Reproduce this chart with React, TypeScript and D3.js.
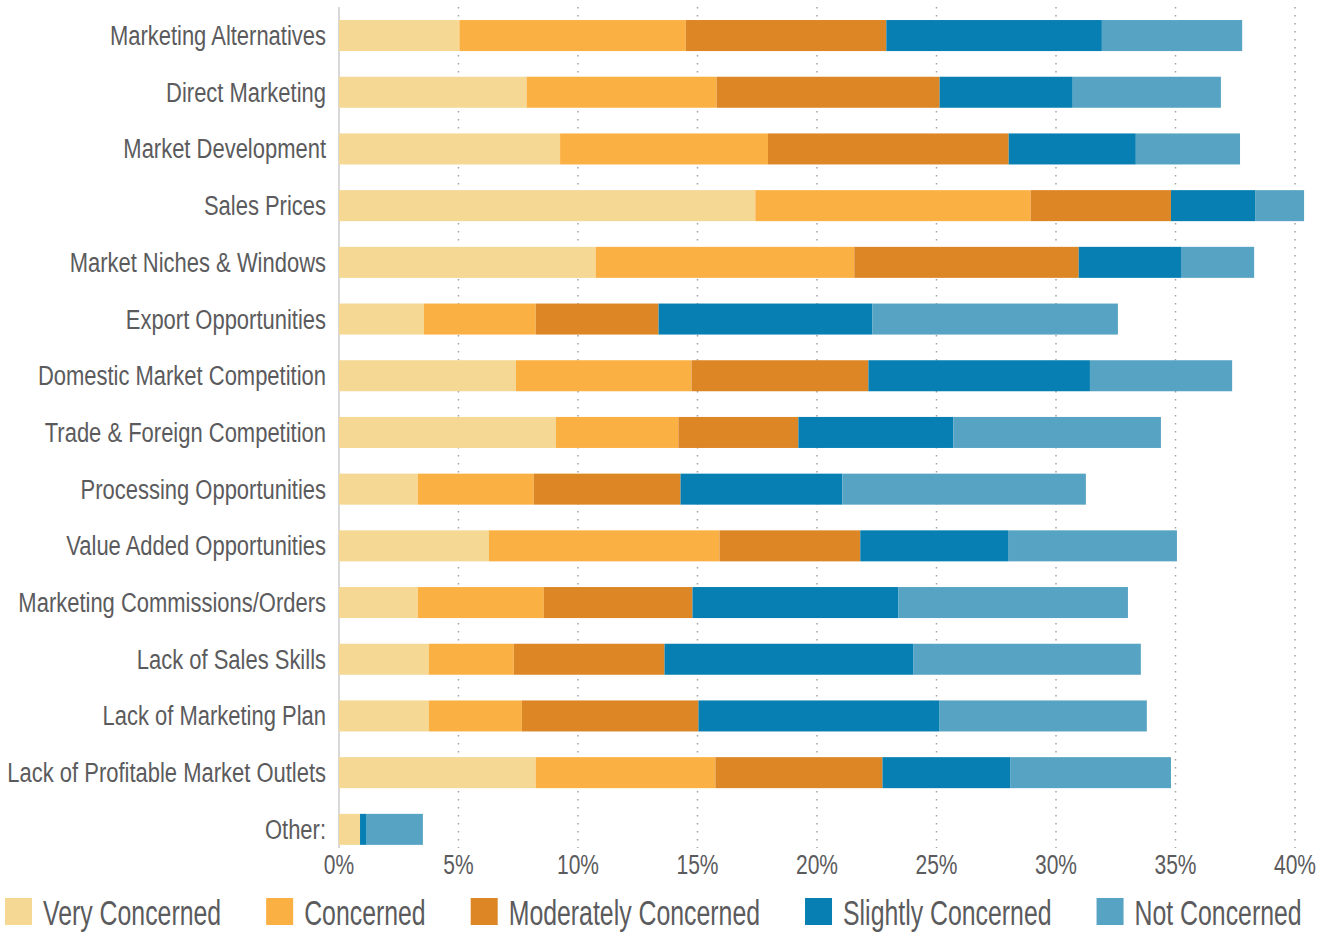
import React, { useEffect, useRef } from "react";
import * as d3 from "d3";

// Share of respondents (%) per concern level, one entry per category
const categories = [
  "Marketing Alternatives",
  "Direct Marketing",
  "Market Development",
  "Sales Prices",
  "Market Niches & Windows",
  "Export Opportunities",
  "Domestic Market Competition",
  "Trade & Foreign Competition",
  "Processing Opportunities",
  "Value Added Opportunities",
  "Marketing Commissions/Orders",
  "Lack of Sales Skills",
  "Lack of Marketing Plan",
  "Lack of Profitable Market Outlets",
  "Other:",
];

const veryConcerned = [5.04, 7.85, 9.25, 17.42, 10.74, 3.55, 7.4, 9.07, 3.3, 6.27, 3.3, 3.76, 3.76, 8.23, 0.88];
const concerned = [9.47, 7.95, 8.7, 11.52, 10.82, 4.68, 7.35, 5.13, 4.85, 9.65, 5.27, 3.55, 3.89, 7.52, 0];
const moderatelyConcerned = [8.39, 9.33, 10.07, 5.87, 9.39, 5.14, 7.4, 5.02, 6.14, 5.89, 6.22, 6.31, 7.39, 6.99, 0];
const slightlyConcerned = [9.02, 5.57, 5.32, 3.52, 4.28, 8.95, 9.27, 6.49, 6.77, 6.21, 8.62, 10.42, 10.09, 5.36, 0.25];
const notConcerned = [5.87, 6.2, 4.36, 2.05, 3.06, 10.27, 5.95, 8.68, 10.19, 7.04, 9.6, 9.51, 8.67, 6.71, 2.38];

const seriesNames = [
  "Very Concerned",
  "Concerned",
  "Moderately Concerned",
  "Slightly Concerned",
  "Not Concerned",
];
const seriesColors = ["#f4d893", "#fbb044", "#dc8626", "#077fb2", "#57a3c3"];

const xTicks = [0, 5, 10, 15, 20, 25, 30, 35, 40];

const WIDTH = 1329;
const HEIGHT = 934;
// narrow look: regular sans squeezed horizontally
const FONT = "'Liberation Sans', Arial, sans-serif";
const TEXT_COLOR = "#5b5b5d";

export default function App() {
  const ref = useRef<SVGSVGElement | null>(null);

  useEffect(() => {
    const svg = d3.select(ref.current);
    svg.selectAll("*").remove();

    const seriesValues = [veryConcerned, concerned, moderatelyConcerned, slightlyConcerned, notConcerned];
    const rows = categories.map((c, i) => {
      const row: Record<string, any> = { category: c };
      seriesNames.forEach((s, k) => (row[s] = seriesValues[k][i]));
      return row;
    });
    const stacked = d3.stack<any>().keys(seriesNames)(rows);

    const x = d3.scaleLinear().domain([0, 40]).range([339, 1295]);
    const y = d3
      .scaleBand<string>()
      .domain(categories)
      .range([7.2, 857.7])
      .paddingInner(0.453)
      .paddingOuter(0.2265);

    const gridTop = 7;
    const gridBottom = 848;

    // dotted vertical gridlines
    svg
      .append("g")
      .selectAll("line")
      .data(xTicks.filter((t) => t > 0))
      .join("line")
      .attr("x1", (d) => x(d))
      .attr("x2", (d) => x(d))
      .attr("y1", gridTop)
      .attr("y2", gridBottom)
      .attr("stroke", "#a3a3a3")
      .attr("stroke-width", 1.5)
      .attr("stroke-dasharray", "1.5 6.5");

    // baseline axis
    svg
      .append("line")
      .attr("x1", x(0))
      .attr("x2", x(0))
      .attr("y1", gridTop)
      .attr("y2", gridBottom)
      .attr("stroke", "#d9d9d9")
      .attr("stroke-width", 2);

    // stacked bars
    svg
      .append("g")
      .selectAll("g")
      .data(stacked)
      .join("g")
      .attr("fill", (_d, i) => seriesColors[i])
      .selectAll("rect")
      .data((d) => d)
      .join("rect")
      .attr("x", (d) => x(d[0]))
      .attr("width", (d) => Math.max(0, x(d[1]) - x(d[0])))
      .attr("y", (d) => y(d.data.category) as number)
      .attr("height", y.bandwidth());

    // category labels
    const catG = svg.append("g");
    categories.forEach((c) => {
      catG
        .append("g")
        .attr("transform", `translate(326,${(y(c) as number) + y.bandwidth() / 2 + 9.5}) scale(0.785,1)`)
        .append("text")
        .attr("text-anchor", "end")
        .attr("font-family", FONT)
        .attr("font-size", 28)
        .attr("fill", TEXT_COLOR)
        .text(c);
    });

    // x tick labels
    const tickG = svg.append("g");
    xTicks.forEach((t) => {
      tickG
        .append("g")
        .attr("transform", `translate(${x(t)},874) scale(0.75,1)`)
        .append("text")
        .attr("text-anchor", "middle")
        .attr("font-family", FONT)
        .attr("font-size", 28)
        .attr("fill", TEXT_COLOR)
        .text(`${t}%`);
    });

    // legend
    const legend = svg.append("g");
    let lx = 5;
    const sw = 27;
    const sx = 0.71;
    seriesNames.forEach((name, i) => {
      legend
        .append("rect")
        .attr("x", lx)
        .attr("y", 898)
        .attr("width", sw)
        .attr("height", sw)
        .attr("fill", seriesColors[i]);
      const t = legend
        .append("g")
        .attr("transform", `translate(${lx + sw + 11},925) scale(${sx},1)`)
        .append("text")
        .attr("font-family", FONT)
        .attr("font-size", 35)
        .attr("fill", TEXT_COLOR)
        .text(name);
      const w = (t.node() as SVGTextElement).getComputedTextLength() * sx;
      lx += sw + 11 + w + 45;
    });
  }, []);

  return (
    <svg
      ref={ref}
      width={WIDTH}
      height={HEIGHT}
      style={{ position: "absolute", left: 0, top: 0, background: "#fff" }}
    />
  );
}
